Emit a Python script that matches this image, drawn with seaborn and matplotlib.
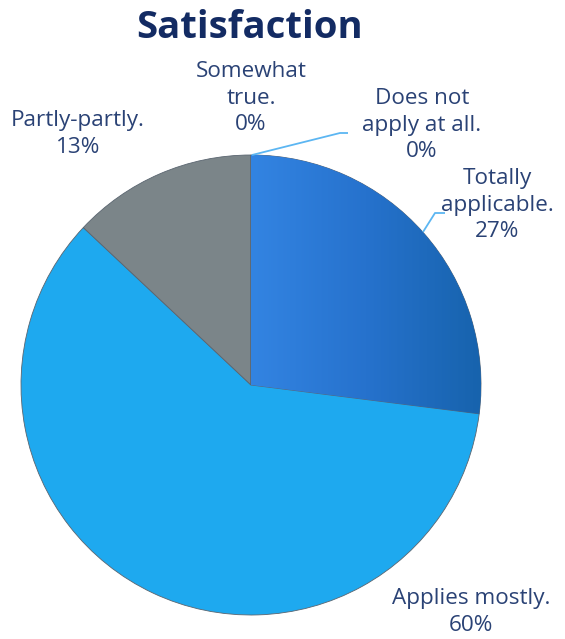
import numpy as np
import matplotlib
matplotlib.use("Agg")
import matplotlib.pyplot as plt
import seaborn as sns
from matplotlib.colors import LinearSegmentedColormap

# Survey answers, in the order they are drawn clockwise from 12 o'clock
categories = ["Totally applicable.", "Applies mostly.", "Partly-partly.",
              "Somewhat true.", "Does not apply at all."]
label_text = ["Totally\napplicable.", "Applies mostly.", "Partly-partly.",
              "Somewhat\ntrue.", "Does not\napply at all."]
percent = [27, 60, 13, 0, 0]
title = "Satisfaction"

sns.set_theme(style="white")
plt.rcParams["font.family"] = ["Open Sans", "DejaVu Sans"]

W, H = 565, 639
fig = plt.figure(figsize=(W / 100, H / 100), dpi=100)
ax = fig.add_axes([0, 0, 1, 1])

cx, cy, R = 251, H - 385, 230
colors = ["#2b78d8", "#1ea9ef", "#7b8589", "#8e989c", "#5c6c7a"]

wedges, _ = ax.pie(percent, colors=colors, startangle=90, counterclock=False,
                   center=(cx, cy), radius=R,
                   wedgeprops=dict(edgecolor="#5a6570", linewidth=0.6))

# shaded fill for the "Totally applicable" slice: lighter left, darker right
grad = np.linspace(0, 1, 256).reshape(1, -1)
cmap = LinearSegmentedColormap.from_list("blue_shade", ["#3384e2", "#2672cd", "#1763ad"])
im = ax.imshow(grad, cmap=cmap, extent=[cx, cx + R, cy - R * 0.2, cy + R],
               aspect="auto", zorder=wedges[0].get_zorder() + 0.1)
im.set_clip_path(wedges[0])

ax.set_xlim(0, W)
ax.set_ylim(0, H)
ax.set_aspect("equal")
ax.axis("off")

txt_color = "#2a4275"
fs = 16.2
ls = 1.33

# label anchors (pixel coordinates from top-left)
label_pos = [(497, 205), (471, 612), (78, 134), (251, 98), (422, 125)]
for i, (lab, p) in enumerate(zip(label_text, percent)):
    x, y = label_pos[i]
    ax.text(x, H - y, f"{lab}\n{p}%", ha="center", va="center",
            fontsize=fs, color=txt_color, linespacing=ls)

# leader lines for the labels placed off the rim
lead = "#5cb6f2"
ax.plot([252, 340, 348], [H - 155, H - 133, H - 133], color=lead, lw=1.3, solid_capstyle="butt")
ax.plot([423, 435, 445], [H - 232, H - 213, H - 213], color=lead, lw=1.3, solid_capstyle="butt")

ax.text(249, H - 28, title, ha="center", va="center", fontsize=27.5,
        fontweight="bold", color="#132b63")

fig.savefig("out.png", dpi=100)
